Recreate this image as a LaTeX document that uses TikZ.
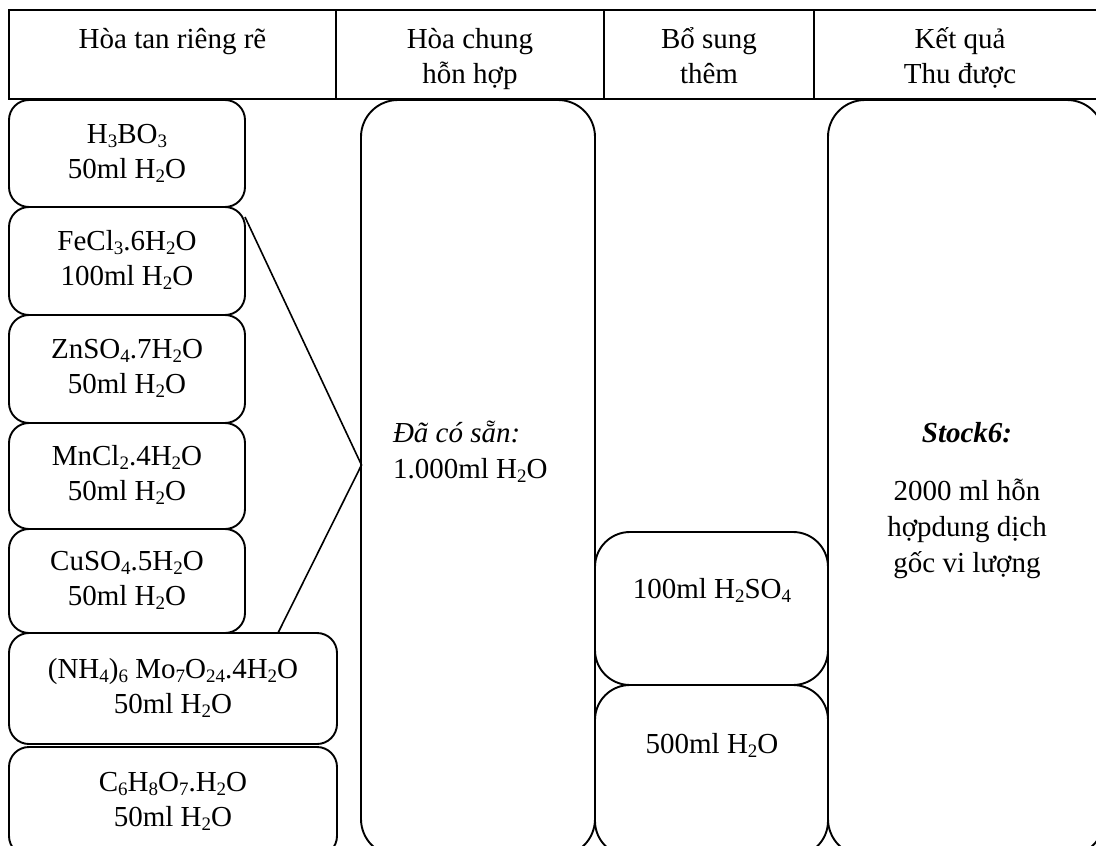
\documentclass[tikz,border=0pt]{standalone}
\usepackage{fontspec}
\setmainfont{Liberation Serif}
\newcommand\chsub[1]{\raisebox{-4pt}{\fontsize{19}{19}\selectfont #1}}
\begin{document}
\begin{tikzpicture}[x=1pt,y=-1pt,
  line width=1.9pt,
  every node/.style={font=\fontsize{29}{35}\selectfont, inner sep=0pt, outer sep=0pt},
  hcell/.style={draw, line width=2pt, anchor=north west},
  lbox/.style={draw, rounded corners=20pt, anchor=north west, align=center},
  bigbox/.style={draw, rounded corners=37pt, anchor=north west},
  txt/.style={align=center},
  txtw/.style={align=center, font=\fontsize{29}{36}\selectfont},
]
\useasboundingbox (0,0) rectangle (1096,846);
\clip (0,0) rectangle (1096,846);

% header
\node[hcell, minimum width=327pt, minimum height=89pt] (h1) at (9,10) {};
\node[hcell, minimum width=268pt, minimum height=89pt] (h2) at (336,10) {};
\node[hcell, minimum width=210pt, minimum height=89pt] (h3) at (604,10) {};
\node[hcell, minimum width=292pt, minimum height=89pt] (h4) at (814,10) {};
\node[txt] (t1) at (172.5,41) {\strut Hòa tan riêng rẽ};
\node[txt] (t2) at (470,58.5) {\strut Hòa chung\\\strut hỗn hợp};
\node[txt] (t3) at (709,58.5) {\strut Bổ sung\\\strut thêm};
\node[txt] (t4) at (960,58.5) {\strut Kết quả\\\strut Thu được};

% left column
\node[lbox, minimum width=236pt, minimum height=107pt] (b1) at (9,100) {\strut H\chsub{3}BO\chsub{3}\\\strut 50ml H\chsub{2}O};
\node[lbox, minimum width=236pt, minimum height=108pt] (b2) at (9,207) {\strut FeCl\chsub{3}.6H\chsub{2}O\\\strut 100ml H\chsub{2}O};
\node[lbox, minimum width=236pt, minimum height=108pt] (b3) at (9,315) {\strut ZnSO\chsub{4}.7H\chsub{2}O\\\strut 50ml H\chsub{2}O};
\node[lbox, minimum width=236pt, minimum height=106pt] (b4) at (9,423) {\strut MnCl\chsub{2}.4H\chsub{2}O\\\strut 50ml H\chsub{2}O};
\node[lbox, minimum width=236pt, minimum height=104pt] (b5) at (9,529) {\strut CuSO\chsub{4}.5H\chsub{2}O\\\strut 50ml H\chsub{2}O};
\node[lbox, minimum width=328pt, minimum height=111pt] (b6) at (9,633) {\strut (NH\chsub{4})\chsub{6} Mo\chsub{7}O\chsub{24}.4H\chsub{2}O\\\strut 50ml H\chsub{2}O};
\node[lbox, minimum width=328pt, minimum height=109pt] (b7) at (9,747) {\strut C\chsub{6}H\chsub{8}O\chsub{7}.H\chsub{2}O\\\strut 50ml H\chsub{2}O};

% middle column
\node[bigbox, minimum width=234pt, minimum height=756pt] (mid) at (361,100) {};
\node[anchor=west, align=left, font=\fontsize{29}{36}\selectfont] (midtxt) at (393,452.8) {\strut\textit{Đã có sẵn:}\\\strut 1.000ml H\chsub{2}O};

% additions
\node[bigbox, rounded corners=35pt, minimum width=233pt, minimum height=153pt] (s1) at (595,532) {};
\node[bigbox, rounded corners=35pt, minimum width=233pt, minimum height=171pt] (s2) at (595,685) {};
\node (s1t) at (712,591) {\strut 100ml H\chsub{2}SO\chsub{4}};
\node (s2t) at (712,746) {\strut 500ml H\chsub{2}O};

% result
\node[bigbox, minimum width=276pt, minimum height=756pt] (res) at (828,100) {};
\node (rt1) at (967,435) {\strut\textbf{\textit{Stock6:}}};
\node[txtw] (rt2) at (967,528.8) {\strut 2000 ml hỗn\\\strut hợpdung dịch\\\strut gốc vi lượng};

% grouping lines
\coordinate (apex) at (361.5,465);
\draw[line width=1.6pt] ([yshift=-10pt]b2.north east) -- (apex) -- ([xshift=269pt]b6.north west);
\end{tikzpicture}
\end{document}
